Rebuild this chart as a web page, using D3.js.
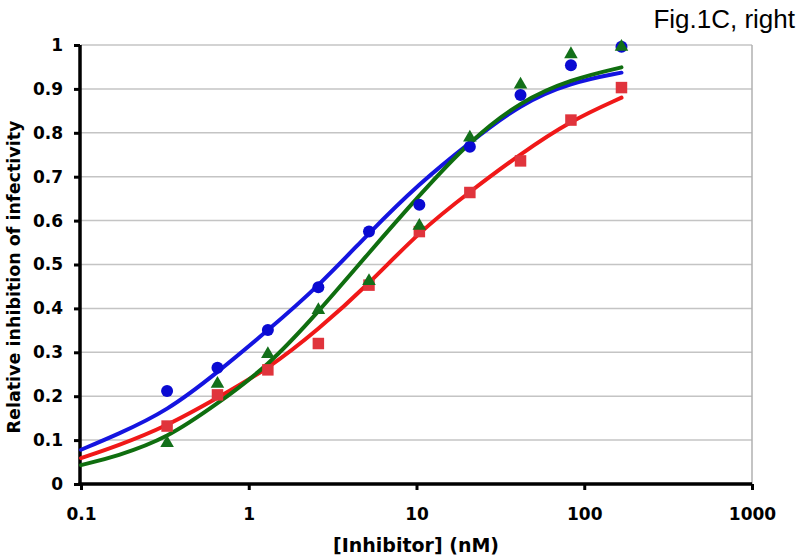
<!DOCTYPE html>
<html><head><meta charset="utf-8">
<script src="https://cdn.jsdelivr.net/npm/d3@7"></script>
<style>body{margin:0;background:#fff}svg{display:block}</style>
</head><body>
<svg id="c" width="800" height="560"></svg>
<script>
// ---- data ----
const concX = [0.326, 0.651, 1.30, 2.60, 5.21, 10.4, 20.8, 41.7, 83.3, 166.7];
const blueVals  = [0.212, 0.265, 0.351, 0.448, 0.575, 0.636, 0.768, 0.886, 0.954, 0.996];
const redVals   = [0.132, 0.203, 0.260, 0.320, 0.453, 0.575, 0.664, 0.736, 0.829, 0.903];
const greenVals = [0.093, 0.228, 0.296, 0.396, 0.462, 0.588, 0.789, 0.910, 0.979, 0.996];
const fitX = [0.1, 0.163, 0.326, 0.651, 1.30, 2.60, 5.21, 10.4, 20.8, 41.7, 83.3, 166.7];
const blueFit  = [0.078, 0.112, 0.166, 0.254, 0.350, 0.450, 0.572, 0.685, 0.778, 0.866, 0.915, 0.937];
const redFit   = [0.059, 0.086, 0.132, 0.196, 0.262, 0.352, 0.456, 0.575, 0.666, 0.752, 0.828, 0.880];
const greenFit = [0.043, 0.063, 0.104, 0.183, 0.268, 0.392, 0.527, 0.658, 0.782, 0.872, 0.922, 0.949];
const xTicks = [0.1, 1, 10, 100, 1000];
const xTickLabels = ["0.1", "1", "10", "100", "1000"];
const yTicks = [0, 0.1, 0.2, 0.3, 0.4, 0.5, 0.6, 0.7, 0.8, 0.9, 1];
const yTickLabels = ["0", "0.1", "0.2", "0.3", "0.4", "0.5", "0.6", "0.7", "0.8", "0.9", "1"];
const title = "Fig.1C, right";
const xTitle = "[Inhibitor] (nM)";
const yTitle = "Relative inhibition of infectivity";

// ---- drawing ----
const svg = d3.select("#c");
const x = d3.scaleLog().domain([0.1, 1000]).range([81, 752]);
const y = d3.scaleLinear().domain([0, 1]).range([484, 45]);
const boldFont = "'DejaVu Sans', Verdana, sans-serif";

// gridlines
svg.append("g").selectAll("line").data(yTicks.filter(d => d > 0)).join("line")
  .attr("x1", x(0.1)).attr("x2", x(1000))
  .attr("y1", d => y(d)).attr("y2", d => y(d))
  .attr("stroke", "#c4c4c4").attr("stroke-width", 1.5);
// right border
svg.append("line").attr("x1", x(1000)).attr("x2", x(1000)).attr("y1", y(1)).attr("y2", y(0))
  .attr("stroke", "#b0b0b0").attr("stroke-width", 1.5);

// y axis
const yAxis = d3.axisLeft(y).tickValues(yTicks).tickFormat((d, i) => yTickLabels[i]).tickSize(6).tickPadding(11);
const gy = svg.append("g").attr("transform", "translate(80,0)").call(yAxis);
gy.select(".domain").attr("stroke", "#000").attr("stroke-width", 3.5).attr("d", `M0,${y(1)}V${y(0)+1.5}`);
gy.selectAll(".tick line").attr("stroke", "#000").attr("stroke-width", 3);
gy.selectAll(".tick text").attr("font-family", boldFont).attr("font-weight", "bold")
  .attr("font-size", 17).attr("fill", "#000");

// x axis
const xAxis = d3.axisBottom(x).tickValues(xTicks).tickFormat((d, i) => xTickLabels[i]).tickSize(6).tickPadding(18);
const gx = svg.append("g").attr("transform", `translate(0,${y(0)})`).call(xAxis);
gx.select(".domain").attr("stroke", "#000").attr("stroke-width", 3.5).attr("d", `M${x(0.1)-2.5},0H${x(1000)}`);
gx.selectAll(".tick line").attr("stroke", "#000").attr("stroke-width", 3);
gx.selectAll(".tick text").attr("font-family", boldFont).attr("font-weight", "bold")
  .attr("font-size", 17).attr("fill", "#000");

// fitted curves
const line = d3.line().x(d => x(d[0])).y(d => y(d[1])).curve(d3.curveBasis);
const fits = [[blueFit, "#1414e0"], [redFit, "#f01818"], [greenFit, "#0f6e0f"]];
fits.forEach(([vals, col]) => {
  svg.append("path").datum(fitX.map((v, i) => [v, vals[i]])).attr("d", line)
    .attr("fill", "none").attr("stroke", col).attr("stroke-width", 4).attr("stroke-linecap", "round");
});

// markers
svg.append("g").selectAll("circle").data(concX.map((v, i) => [v, blueVals[i]])).join("circle")
  .attr("cx", d => x(d[0])).attr("cy", d => y(d[1])).attr("r", 6).attr("fill", "#0a0ad2");
svg.append("g").selectAll("path").data(concX.map((v, i) => [v, redVals[i]])).join("path")
  .attr("transform", d => `translate(${x(d[0])},${y(d[1])})`)
  .attr("d", d3.symbol(d3.symbolSquare, 132)).attr("fill", "#e0343c");
svg.append("g").selectAll("path").data(concX.map((v, i) => [v, greenVals[i]])).join("path")
  .attr("transform", d => `translate(${x(d[0])},${y(d[1])})`)
  .attr("d", d3.symbol(d3.symbolTriangle, 80)).attr("fill", "#13701a");

// titles
svg.append("text").attr("x", 795).attr("y", 28).attr("text-anchor", "end")
  .attr("font-family", "'Liberation Sans', Arial, sans-serif").attr("font-size", 26).attr("fill", "#000").text(title);
svg.append("text").attr("x", 416).attr("y", 552).attr("text-anchor", "middle")
  .attr("font-family", boldFont).attr("font-weight", "bold").attr("font-size", 19).attr("fill", "#000").text(xTitle);
svg.append("text").attr("transform", "translate(20,277) rotate(-90)").attr("text-anchor", "middle")
  .attr("font-family", boldFont).attr("font-weight", "bold").attr("font-size", 17.5).attr("fill", "#000").text(yTitle);
</script>
</body></html>
